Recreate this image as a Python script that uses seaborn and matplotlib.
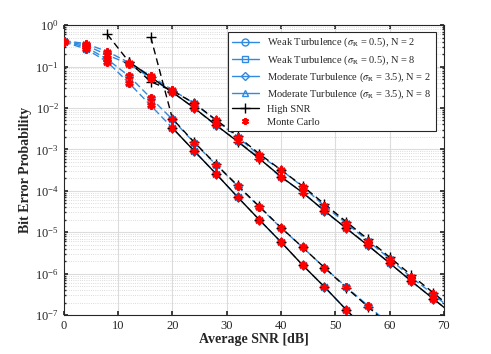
import numpy as np
import pandas as pd
import matplotlib
matplotlib.use('Agg')
import matplotlib.pyplot as plt
import seaborn as sns
from matplotlib.lines import Line2D
from matplotlib.ticker import FixedLocator, LogLocator, NullFormatter, MultipleLocator

# SNR grids (dB)
snr_weak_n2 = [0, 4, 8, 12, 16, 20, 24, 28, 32, 36, 40, 44, 48, 52, 56, 60]
snr_weak_n8 = [0, 4, 8, 12, 16, 20, 24, 28, 32, 36, 40, 44, 48, 52, 56]
snr_mod = [0, 4, 8, 12, 16, 20, 24, 28, 32, 36, 40, 44, 48, 52, 56, 60, 64, 68, 72]

# analytical BER curves
ber_weak_n2 = [0.40, 0.30, 0.15, 0.059, 0.0175, 5.3e-3, 1.45e-3, 4.3e-4, 1.3e-4, 4.1e-5,
               1.27e-5, 4.3e-6, 1.4e-6, 4.8e-7, 1.7e-7, 6e-8]
ber_weak_n8 = [0.39, 0.27, 0.13, 0.040, 0.0115, 3.3e-3, 9.2e-4, 2.6e-4, 7.1e-5, 2.0e-5,
               5.8e-6, 1.6e-6, 4.8e-7, 1.35e-7, 4e-8]
ber_mod_n2 = [0.42, 0.36, 0.23, 0.125, 0.060, 0.027, 1.3e-2, 5.0e-3, 2.0e-3, 7.2e-4,
              3.2e-4, 1.26e-4, 4.3e-5, 1.66e-5, 6.2e-6, 2.3e-6, 8.1e-7, 3.2e-7, 1.2e-7]
ber_mod_n8 = [0.41, 0.33, 0.19, 0.115, 0.053, 0.024, 1.0e-2, 3.8e-3, 1.6e-3, 6.2e-4,
              2.1e-4, 9.3e-5, 3.2e-5, 1.26e-5, 4.9e-6, 1.8e-6, 6.6e-7, 2.5e-7, 9.5e-8]

# high SNR asymptotes
snr_hi_mod_n2 = [8, 12, 16, 20, 24, 28, 32, 36, 40, 44, 48, 52, 56, 60, 64, 68, 72]
hi_mod_n2 = [0.6, 0.13, 0.043, 0.026, 1.3e-2, 5.2e-3, 2.1e-3, 7.8e-4, 3.2e-4, 1.3e-4,
             4.8e-5, 1.8e-5, 6.8e-6, 2.5e-6, 9.2e-7, 3.5e-7, 1.3e-7]
snr_hi_mod_n8 = [12, 16, 20, 24, 28, 32, 36, 40, 44, 48, 52, 56, 60, 64, 68, 72]
hi_mod_n8 = [0.13, 0.056, 0.024, 1.0e-2, 3.9e-3, 1.55e-3, 6.0e-4, 2.2e-4, 9e-5, 3.3e-5,
             1.25e-5, 4.8e-6, 1.8e-6, 6.6e-7, 2.5e-7, 9.5e-8]
snr_hi_weak_n2 = [16, 20, 24, 28, 32, 36, 40, 44, 48, 52, 56, 60]
hi_weak_n2 = [0.52, 5.5e-3, 1.5e-3, 4.4e-4, 1.35e-4, 4.2e-5, 1.3e-5, 4.3e-6, 1.4e-6,
              4.6e-7, 1.6e-7, 5.5e-8]
snr_hi_weak_n8 = [20, 24, 28, 32, 36, 40, 44, 48, 52, 56]
hi_weak_n8 = [3.3e-3, 9.2e-4, 2.6e-4, 7.1e-5, 2.0e-5, 5.8e-6, 1.6e-6, 4.8e-7, 1.35e-7, 4e-8]

y_ticks = [1e-7, 1e-6, 1e-5, 1e-4, 1e-3, 1e-2, 1e-1, 1e0]

labels = [r'Weak Turbulence ($\sigma_{\rm R}$ = 0.5), N = 2',
          r'Weak Turbulence ($\sigma_{\rm R}$ = 0.5), N = 8',
          r'Moderate Turbulence ($\sigma_{\rm R}$ = 3.5), N = 2',
          r'Moderate Turbulence ($\sigma_{\rm R}$ = 3.5), N = 8',
          'High SNR', 'Monte Carlo']

sns.set_theme(style='ticks')
plt.rcParams['font.family'] = ['Liberation Serif', 'DejaVu Serif']
plt.rcParams['mathtext.fontset'] = 'stix'

blue = '#2f8ae0'
fig, ax = plt.subplots(figsize=(4.91, 3.54), dpi=100)
fig.subplots_adjust(left=0.13, right=0.904, top=0.929, bottom=0.11)

curves = [(snr_weak_n2, ber_weak_n2, 'o'), (snr_weak_n8, ber_weak_n8, 's'),
          (snr_mod, ber_mod_n2, 'D'), (snr_mod, ber_mod_n8, '^')]
for snr, ber, mk in curves:
    ms = 4 if mk == 'D' else 5
    sns.lineplot(x=snr, y=ber, ax=ax, color=blue, linewidth=1.0, linestyle=(0, (5, 2.5)),
                 marker=mk, markersize=ms, markerfacecolor='none',
                 markeredgecolor=blue, markeredgewidth=1.0, zorder=3)

asym = [(snr_hi_weak_n2, hi_weak_n2, (0, (5, 3))), (snr_hi_weak_n8, hi_weak_n8, '-'),
        (snr_hi_mod_n2, hi_mod_n2, (0, (5, 3))), (snr_hi_mod_n8, hi_mod_n8, '-')]
for snr, ber, ls in asym:
    sns.lineplot(x=snr, y=ber, ax=ax, color='black', linewidth=1.0, linestyle=ls,
                 marker='+', markersize=7, markeredgecolor='black',
                 markeredgewidth=1.0, zorder=4)

for snr, ber, mk in curves:
    mc = pd.DataFrame({'snr': snr, 'ber': ber})
    mc = mc[mc['snr'] <= 68]
    sns.lineplot(data=mc, x='snr', y='ber', ax=ax, color='red', linestyle='none',
                 marker=(6, 2, 0), markersize=6, markeredgecolor='red',
                 markeredgewidth=1.6, zorder=5)

ax.set_yscale('log')
ax.set_xlim(0, 70)
ax.set_ylim(1e-7, 1)
ax.xaxis.set_major_locator(MultipleLocator(10))
ax.yaxis.set_major_locator(FixedLocator(y_ticks))
ax.yaxis.set_minor_locator(LogLocator(base=10, subs=np.arange(2, 10), numticks=100))
ax.yaxis.set_minor_formatter(NullFormatter())
ax.grid(True, which='major', color='#dcdcdc', linewidth=0.8, linestyle='-')
ax.grid(True, which='minor', axis='y', color='#cfcfcf', linewidth=0.6, linestyle=':')
ax.set_axisbelow(True)
ax.tick_params(which='both', direction='in', top=True, right=True, labelsize=9,
               colors='#262626', length=3)
ax.tick_params(which='minor', length=1.5)
for sp in ax.spines.values():
    sp.set_color('#262626')
    sp.set_linewidth(0.8)

ax.set_xlabel('Average SNR [dB]', fontsize=10, fontweight='bold', labelpad=1)
ax.set_ylabel('Bit Error Probability', fontsize=10, fontweight='bold', labelpad=2)

handles = [Line2D([], [], color=blue, marker='o', mfc='none', ms=5, lw=1.0),
           Line2D([], [], color=blue, marker='s', mfc='none', ms=5, lw=1.0),
           Line2D([], [], color=blue, marker='D', mfc='none', ms=4, lw=1.0),
           Line2D([], [], color=blue, marker='^', mfc='none', ms=5, lw=1.0),
           Line2D([], [], color='black', marker='+', ms=7, lw=1.0),
           Line2D([], [], color='red', marker=(6, 2, 0), ms=5, mew=1.4, ls='none')]
leg = ax.legend(handles, labels, loc='upper right', fontsize=7.5, frameon=True,
                fancybox=False, edgecolor='#262626', framealpha=1,
                handlelength=2.6, labelspacing=0.35, borderpad=0.4,
                bbox_to_anchor=(0.992, 0.995))
leg.get_frame().set_linewidth(0.8)

fig.savefig('out.png', dpi=100)
